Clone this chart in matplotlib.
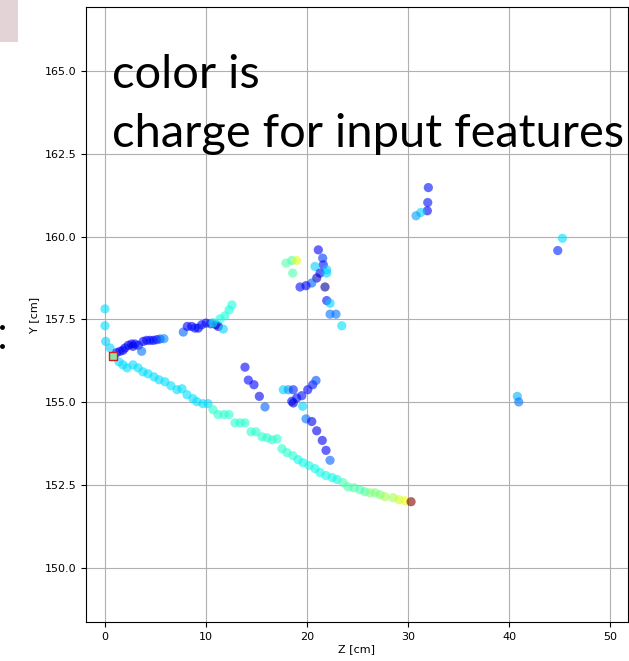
import numpy as np
import matplotlib.pyplot as plt
from matplotlib.lines import Line2D
from matplotlib.patches import Rectangle

# hits: Z [cm], Y [cm], charge (scaled 0..1 for the jet colour map)

# long track from the vertex down to the Bragg peak
z_main = [1.39, 1.78, 2.18, 2.77, 3.27, 3.76, 4.26, 4.85, 5.35, 5.94, 6.53, 7.13, 7.62, 8.12,
          8.71, 9.11, 9.70, 10.20, 10.69, 11.19, 11.78, 12.28, 12.87, 13.37, 13.86, 14.46,
          14.95, 15.54, 16.04, 16.53, 17.03, 17.52, 18.02, 18.61, 19.11, 19.60, 20.20, 20.79,
          21.29, 21.88, 22.48, 22.97, 23.56, 24.06, 24.65, 25.25, 25.74, 26.24, 26.73, 27.23,
          27.72, 28.51, 29.11, 29.70, 30.30]
y_main = [156.22, 156.13, 156.04, 156.13, 156.04, 155.92, 155.86, 155.77, 155.68, 155.62,
          155.50, 155.38, 155.41, 155.23, 155.11, 155.02, 154.96, 154.96, 154.78, 154.63,
          154.63, 154.63, 154.38, 154.38, 154.38, 154.11, 154.11, 153.96, 153.93, 153.87,
          153.90, 153.60, 153.48, 153.39, 153.27, 153.18, 153.09, 153.00, 152.88, 152.79,
          152.73, 152.67, 152.58, 152.45, 152.42, 152.36, 152.30, 152.27, 152.27, 152.21,
          152.15, 152.12, 152.06, 152.03, 152.00]
q_main = [0.34] * 18 + [0.40] * 16 + [0.37] * 8 + [0.44] * 5 + [0.50] * 3 + [0.55] * 2 + \
         [0.60, 0.64, 1.0]

# short column above the vertex
z_col = [0.0, 0.0, 0.07, 0.50]
y_col = [157.82, 157.31, 156.84, 156.64]
q_col = [0.34, 0.34, 0.33, 0.33]

# first blue track leaving the vertex
z_b1 = [1.16, 1.49, 1.78, 1.98, 2.31, 2.64, 2.77, 2.97, 3.30, 3.63, 3.79, 4.13, 4.46, 4.78,
        5.12, 5.45, 5.84]
y_b1 = [156.50, 156.54, 156.57, 156.64, 156.72, 156.76, 156.69, 156.76, 156.72, 156.54,
        156.84, 156.87, 156.87, 156.87, 156.89, 156.91, 156.92]
q_b1 = [0.12, 0.14, 0.10, 0.12, 0.10, 0.12, 0.08, 0.12, 0.14, 0.24, 0.12, 0.12, 0.14, 0.12,
        0.14, 0.18, 0.26]

# its continuation around Z = 10
z_b2 = [7.75, 8.15, 8.58, 8.91, 9.24, 9.57, 10.00, 10.47, 10.99, 11.22, 11.71]
y_b2 = [157.12, 157.29, 157.29, 157.24, 157.24, 157.34, 157.39, 157.37, 157.34, 157.29, 157.21]
q_b2 = [0.22, 0.12, 0.12, 0.14, 0.12, 0.14, 0.12, 0.14, 0.12, 0.07, 0.33]

# cyan branch going up
z_c1 = [10.69, 11.39, 11.88, 12.28, 12.57]
y_c1 = [157.40, 157.52, 157.61, 157.79, 157.94]
q_c1 = [0.36, 0.38, 0.38, 0.38, 0.38]

# short blue diagonal
z_b3 = [13.86, 14.19, 14.75, 15.28, 15.84]
y_b3 = [156.06, 155.67, 155.53, 155.18, 154.86]
q_b3 = [0.12, 0.13, 0.12, 0.10, 0.22]

# crossing near Z = 19
z_x = [17.65, 18.15, 18.64, 18.49, 18.98, 18.64, 19.48, 20.07, 20.56, 20.89, 19.57]
y_x = [155.38, 155.38, 155.38, 155.03, 155.13, 154.98, 155.20, 155.38, 155.53, 155.66, 154.88]
q_x = [0.33, 0.28, 0.16, 0.14, 0.14, 0.08, 0.14, 0.12, 0.14, 0.20, 0.33]

# lower blue branch
z_b4 = [19.90, 20.47, 20.96, 21.51, 21.88, 22.28]
y_b4 = [154.50, 154.42, 154.14, 153.85, 153.55, 153.25]
q_b4 = [0.24, 0.10, 0.10, 0.10, 0.12, 0.22]

# upper cluster around Z = 21
z_up = [21.12, 21.55, 21.61, 20.79, 21.95, 21.29, 21.95, 20.96, 20.47, 19.90, 19.31, 21.78,
        21.95, 22.28, 22.28, 22.87, 23.44]
y_up = [159.60, 159.35, 159.15, 159.10, 159.00, 158.90, 158.90, 158.75, 158.60, 158.52,
        158.48, 158.48, 158.07, 157.99, 157.66, 157.66, 157.31]
q_up = [0.12, 0.18, 0.14, 0.33, 0.33, 0.12, 0.33, 0.06, 0.22, 0.12, 0.14, 0.02,
        0.14, 0.33, 0.24, 0.24, 0.34]

# green / yellow hits
z_g = [17.92, 18.49, 18.98, 18.58]
y_g = [159.20, 159.28, 159.28, 158.90]
q_g = [0.45, 0.44, 0.62, 0.44]

# isolated hits on the right
z_far = [32.01, 31.95, 31.91, 31.26, 30.79, 45.28, 44.82, 40.82, 40.96]
y_far = [161.48, 161.03, 160.78, 160.73, 160.63, 159.95, 159.58, 155.18, 155.01]
q_far = [0.14, 0.14, 0.10, 0.33, 0.28, 0.34, 0.16, 0.30, 0.24]

# vertex
z_vtx = [0.75]
y_vtx = [156.39]

z = np.concatenate([z_main, z_col, z_b1, z_b2, z_c1, z_b3, z_x, z_b4, z_up, z_g, z_far])
y = np.concatenate([y_main, y_col, y_b1, y_b2, y_c1, y_b3, y_x, y_b4, y_up, y_g, y_far])
q = np.concatenate([q_main, q_col, q_b1, q_b2, q_c1, q_b3, q_x, q_b4, q_up, q_g, q_far])

fig = plt.figure(figsize=(6.29, 6.61), dpi=100)
ax = fig.add_axes([0.1367, 0.059, 0.861, 0.9304])

ax.scatter(z, y, c=q, cmap='jet', vmin=0, vmax=1, s=44, alpha=0.6, linewidths=0)
ax.scatter(z_vtx, y_vtx, marker='s', s=30, facecolor='#8fe3a0', edgecolor='#d02020',
           linewidths=1.0, zorder=3)

ax.set_xlim(-1.88, 51.73)
ax.set_ylim(148.37, 166.93)
ax.set_xticks([0, 10, 20, 30, 40, 50])
ax.set_yticks([150.0, 152.5, 155.0, 157.5, 160.0, 162.5, 165.0])
ax.yaxis.set_major_formatter(plt.FormatStrFormatter('%.1f'))
ax.tick_params(labelsize=8)
ax.grid(True)
ax.set_axisbelow(True)
ax.set_xlabel('Z [cm]', fontsize=8, labelpad=2)
ax.set_ylabel('Y [cm]', fontsize=8, labelpad=4)

# big note written over the plot
fig.text(112 / 629, 1 - 88 / 661, 'color is', fontsize=33.8, family='Lato',
         va='baseline', ha='left')
fig.text(112 / 629, 1 - 147 / 661, 'charge for input features', fontsize=33.8, family='Lato',
         va='baseline', ha='left')

# bits of the slide around the plot
fig.add_artist(Rectangle((0, 1 - 42 / 661), 18 / 629, 42 / 661, transform=fig.transFigure,
                         facecolor='#e3d3d7', edgecolor='none'))
fig.add_artist(Line2D([2 / 629, 2 / 629], [1 - 327 / 661, 1 - 346 / 661], transform=fig.transFigure,
                      linestyle='none', marker='o', markersize=2.5, color='black'))

fig.savefig('out.png', dpi=100)
